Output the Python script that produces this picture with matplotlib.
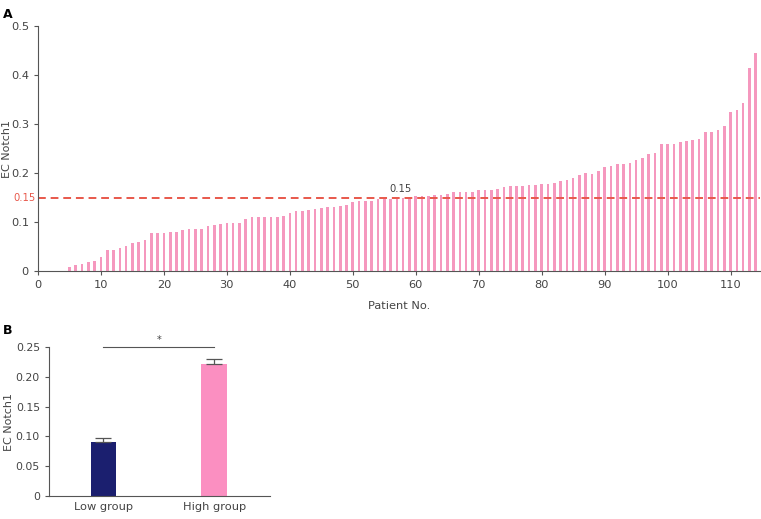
import matplotlib.pyplot as plt
import numpy as np

# Panel A: EC Notch1 per patient (sorted), patients 5..114
patients = list(range(5, 115))
ec_notch1 = [
    0.0075, 0.012, 0.014, 0.019, 0.021, 0.028, 0.042, 0.042, 0.048, 0.051,
    0.058, 0.059, 0.064, 0.077, 0.077, 0.078, 0.079, 0.080, 0.083, 0.085,
    0.085, 0.086, 0.091, 0.094, 0.095, 0.097, 0.097, 0.099, 0.106, 0.110,
    0.110, 0.110, 0.110, 0.110, 0.112, 0.118, 0.123, 0.123, 0.125, 0.127,
    0.129, 0.130, 0.131, 0.132, 0.134, 0.141, 0.142, 0.143, 0.143, 0.147,
    0.147, 0.148, 0.148, 0.149, 0.150, 0.153, 0.153, 0.154, 0.155, 0.155,
    0.157, 0.161, 0.162, 0.162, 0.162, 0.165, 0.166, 0.166, 0.168, 0.171,
    0.173, 0.173, 0.174, 0.175, 0.176, 0.177, 0.177, 0.180, 0.183, 0.186,
    0.189, 0.195, 0.200, 0.199, 0.204, 0.212, 0.214, 0.218, 0.219, 0.221,
    0.227, 0.231, 0.239, 0.240, 0.259, 0.259, 0.259, 0.263, 0.265, 0.268,
    0.270, 0.283, 0.283, 0.288, 0.297, 0.324, 0.328, 0.343, 0.414, 0.444,
]
cutoff = 0.15

# Panel B: group means with error
groups = ["Low group", "High group"]
group_means = [0.091, 0.222]
group_err = [0.007, 0.008]

pink = "#f598be"
grey = "#555555"
txt = "#444444"

fig = plt.figure(figsize=(7.61, 5.19), dpi=100)

# ---- Panel A ----
ax = fig.add_axes([0.0499, 0.4778, 0.949, 0.472])
ax.bar(patients, ec_notch1, width=0.42, color=pink)
ax.axhline(cutoff, color="#e8584b", linestyle=(0, (4, 2.5)), linewidth=1.4)
ax.set_xlim(0, 114.7)
ax.set_ylim(0, 0.5)
ax.set_xticks(np.arange(0, 111, 10))
ax.set_yticks([0, 0.1, 0.2, 0.3, 0.4, 0.5])
ax.set_yticklabels(["0", "0.1", "0.2", "0.3", "0.4", "0.5"])
for s in ["top", "right"]:
    ax.spines[s].set_visible(False)
for s in ["left", "bottom"]:
    ax.spines[s].set_color(grey)
    ax.spines[s].set_linewidth(0.8)
ax.tick_params(colors=grey, labelcolor=txt, labelsize=8.2, length=3, width=0.8)
ax.set_xlabel("Patient No.", fontsize=8.2, color=txt, labelpad=8)
ax.set_ylabel("EC Notch1", fontsize=8, color=txt)
ax.yaxis.set_label_coords(-0.036, 0.5)
ax.text(-0.003, cutoff, "0.15", color="#e8584b", fontsize=7.2, ha="right", va="center",
        transform=ax.get_yaxis_transform())
ax.text(57.5, cutoff + 0.008, "0.15", color=txt, fontsize=7.2, ha="center", va="bottom")
fig.text(0.004, 0.985, "A", fontsize=9, fontweight="bold", va="top")

# ---- Panel B ----
bx = fig.add_axes([0.0644, 0.0443, 0.290, 0.2871])
bx.bar([0, 1], group_means, width=0.23, color=["#1b1f6f", "#fb8fc1"],
       yerr=[[0, 0], group_err], capsize=6, error_kw=dict(ecolor=grey, elinewidth=0.9, capthick=0.9))
bx.set_xlim(-0.49, 1.5)
bx.set_ylim(0, 0.25)
bx.set_xticks([0, 1])
bx.set_xticklabels(groups)
bx.set_yticks([0, 0.05, 0.10, 0.15, 0.20, 0.25])
bx.set_yticklabels(["0", "0.05", "0.10", "0.15", "0.20", "0.25"])
for s in ["top", "right"]:
    bx.spines[s].set_visible(False)
for s in ["left", "bottom"]:
    bx.spines[s].set_color(grey)
    bx.spines[s].set_linewidth(0.8)
bx.tick_params(colors=grey, labelcolor=txt, labelsize=7.8, length=3, width=0.8)
bx.tick_params(axis="x", length=0, labelsize=8.2, pad=4)
bx.set_ylabel("EC Notch1", fontsize=8, color=txt)
bx.yaxis.set_label_coords(-0.158, 0.5)
bx.plot([0, 1], [0.25, 0.25], color=grey, linewidth=0.8, clip_on=False)
bx.text(0.5, 0.253, "*", color=txt, fontsize=7, ha="center", va="bottom")
fig.text(0.004, 0.375, "B", fontsize=9, fontweight="bold", va="top")

fig.savefig("out.png", dpi=100)
